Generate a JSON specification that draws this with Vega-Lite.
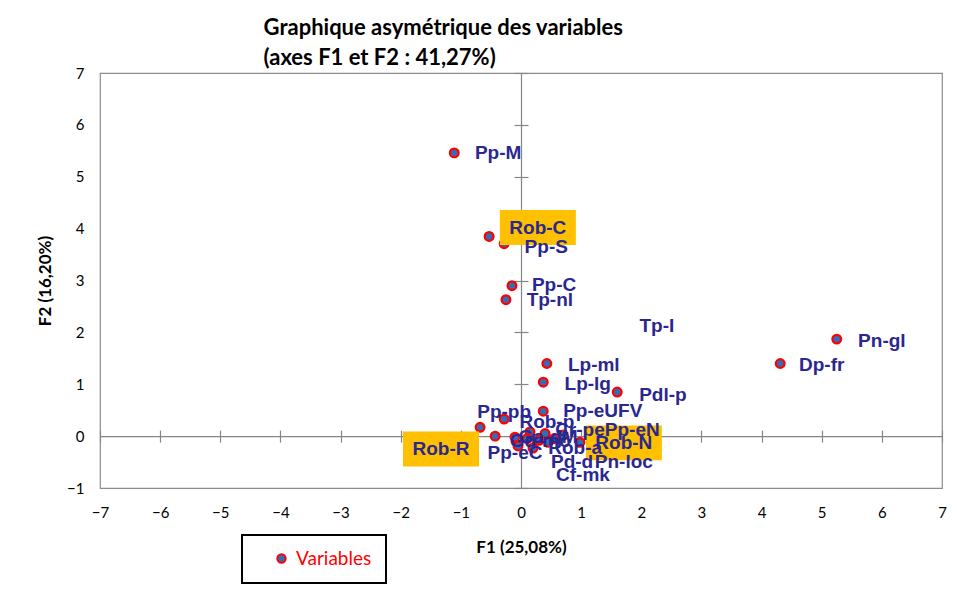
{
  "$schema": "https://vega.github.io/schema/vega-lite/v6.json",
  "width": 842,
  "height": 415,
  "autosize": {"type": "none"},
  "padding": {"left": 100, "top": 73, "right": 15, "bottom": 106},
  "background": "white",
  "title": {
    "text": ["Graphique asymétrique des variables", "(axes F1 et F2 : 41,27%)"],
    "anchor": "start",
    "dx": 227,
    "font": "Lato",
    "fontSize": 22,
    "fontWeight": "bold",
    "color": "#000000",
    "lineHeight": 30,
    "offset": -4
  },
  "datasets": {
    "points": [
      {"name": "Pp-M", "F1": -1.11, "F2": 5.46},
      {"name": "Rob-C", "F1": -0.53, "F2": 3.85},
      {"name": "Pp-S", "F1": -0.28, "F2": 3.71},
      {"name": "Pp-C", "F1": -0.15, "F2": 2.9},
      {"name": "Tp-nl", "F1": -0.25, "F2": 2.63},
      {"name": "Pn-gl", "F1": 5.25, "F2": 1.87},
      {"name": "Dp-fr", "F1": 4.31, "F2": 1.4},
      {"name": "Lp-ml", "F1": 0.43, "F2": 1.4},
      {"name": "Lp-lg", "F1": 0.37, "F2": 1.04},
      {"name": "Pdl-p", "F1": 1.6, "F2": 0.85},
      {"name": "Pp-eUFV", "F1": 0.37, "F2": 0.48},
      {"name": "Pp-pb", "F1": -0.28, "F2": 0.33},
      {"name": "Rob-R", "F1": -0.68, "F2": 0.17},
      {"name": "Pp-eC", "F1": -0.43, "F2": 0.0},
      {"name": "Rob-p", "F1": -0.1, "F2": -0.02},
      {"name": "Pd-d", "F1": -0.05, "F2": -0.19},
      {"name": "Cf-mk", "F1": 0.2, "F2": -0.23},
      {"name": "Pn-loc", "F1": 0.98, "F2": -0.12},
      {"name": "Rob-N", "F1": 0.55, "F2": -0.05},
      {"name": "Pp-eN", "F1": 0.4, "F2": 0.05},
      {"name": "Cr-pe", "F1": 0.15, "F2": 0.08},
      {"name": "Rob-a", "F1": 0.3, "F2": -0.08},
      {"name": "Tp-I", "F1": 0.7, "F2": 0.02},
      {"name": "Ga-dM", "F1": 0.1, "F2": -0.05},
      {"name": "Gd-mo", "F1": 0.45, "F2": -0.12}
    ],
    "labels": [
      {"name": "Pp-M", "F1": -0.38, "F2": 5.46, "highlight": false},
      {"name": "Rob-C", "F1": 0.28, "F2": 4.02, "highlight": true},
      {"name": "Pp-S", "F1": 0.42, "F2": 3.65, "highlight": false},
      {"name": "Pp-C", "F1": 0.55, "F2": 2.92, "highlight": false},
      {"name": "Tp-nl", "F1": 0.48, "F2": 2.62, "highlight": false},
      {"name": "Tp-I", "F1": 2.26, "F2": 2.13, "highlight": false},
      {"name": "Pn-gl", "F1": 6.0, "F2": 1.83, "highlight": false},
      {"name": "Dp-fr", "F1": 5.0, "F2": 1.37, "highlight": false},
      {"name": "Lp-ml", "F1": 1.21, "F2": 1.37, "highlight": false},
      {"name": "Lp-lg", "F1": 1.11, "F2": 1.0, "highlight": false},
      {"name": "Pdl-p", "F1": 2.36, "F2": 0.79, "highlight": false},
      {"name": "Pp-eUFV", "F1": 1.36, "F2": 0.48, "highlight": false},
      {"name": "Pp-pb", "F1": -0.28, "F2": 0.46, "highlight": false},
      {"name": "Rob-p", "F1": 0.43, "F2": 0.27, "highlight": false},
      {"name": "Cr-pe", "F1": 0.98, "F2": 0.12, "highlight": false},
      {"name": "Rob-N", "F1": 1.71, "F2": -0.13, "highlight": true},
      {"name": "Pp-eN", "F1": 1.85, "F2": 0.12, "highlight": false},
      {"name": "Rob-R", "F1": -1.33, "F2": -0.25, "highlight": true},
      {"name": "Pp-eC", "F1": -0.1, "F2": -0.33, "highlight": false},
      {"name": "Ga-dM", "F1": 0.45, "F2": -0.02, "highlight": false},
      {"name": "Gd-mo", "F1": 0.32, "F2": -0.1, "highlight": false},
      {"name": "Rob-a", "F1": 0.9, "F2": -0.23, "highlight": false},
      {"name": "Pd-d", "F1": 0.85, "F2": -0.5, "highlight": false},
      {"name": "Pn-loc", "F1": 1.71, "F2": -0.5, "highlight": false},
      {"name": "Cf-mk", "F1": 1.03, "F2": -0.75, "highlight": false}
    ]
  },
  "layer": [
    {
      "data": {"name": "points"},
      "mark": {"type": "point", "shape": "circle", "filled": true, "size": 75, "stroke": "#FF0000", "strokeWidth": 2.3, "opacity": 1},
      "encoding": {
        "x": {
          "field": "F1", "type": "quantitative",
          "scale": {"domain": [-7, 7], "nice": false, "zero": false},
          "axis": {
            "title": "F1 (25,08%)", "orient": "bottom", "offset": 0,
            "domain": false, "ticks": false, "grid": false,
            "values": [-7, -6, -5, -4, -3, -2, -1, 0, 1, 2, 3, 4, 5, 6, 7],
            "labelFlush": false, "labelPadding": 17,
            "labelFont": "Lato", "labelFontSize": 15, "labelColor": "#000000",
            "titleFont": "Lato", "titleFontSize": 17, "titleFontWeight": "bold", "titleColor": "#000000", "titlePadding": 19
          }
        },
        "y": {
          "field": "F2", "type": "quantitative",
          "scale": {"domain": [-1, 7], "nice": false, "zero": false},
          "axis": {
            "title": "F2 (16,20%)", "orient": "left", "offset": 0,
            "domain": false, "ticks": false, "grid": false,
            "values": [-1, 0, 1, 2, 3, 4, 5, 6, 7],
            "labelFlush": false, "labelPadding": 16,
            "labelFont": "Lato", "labelFontSize": 15, "labelColor": "#000000",
            "titleFont": "Lato", "titleFontSize": 17, "titleFontWeight": "bold", "titleColor": "#000000", "titlePadding": 12
          }
        },
        "fill": {
          "datum": "Variables", "type": "nominal",
          "scale": {"range": ["#2E6FB7"]},
          "legend": {
            "title": null, "orient": "none", "legendX": 142, "legendY": 462,
            "labelColor": "#FF0000", "labelFont": "Lato", "labelFontSize": 19,
            "symbolType": "circle", "symbolSize": 70, "symbolStrokeColor": "#FF0000", "symbolStrokeWidth": 2,
            "symbolOffset": 16, "labelOffset": 5
          }
        }
      }
    },
    {
      "data": {"name": "labels"},
      "transform": [{"filter": "datum.highlight"}],
      "mark": {"type": "point", "shape": "M-1,-0.46L1,-0.46L1,0.46L-1,0.46Z", "size": 5776, "filled": true, "fill": "#FFC000", "strokeWidth": 0, "opacity": 1},
      "encoding": {
        "x": {
          "field": "F1", "type": "quantitative",
          "axis": {
            "title": null, "orient": "bottom", "offset": -51.875,
            "labels": false, "domain": true, "domainColor": "#868686", "domainWidth": 1.2,
            "ticks": true, "tickSize": 6, "tickColor": "#868686", "tickWidth": 1.2, "grid": false,
            "values": [-7, -6, -5, -4, -3, -2, -1, 0, 1, 2, 3, 4, 5, 6, 7]
          }
        },
        "y": {
          "field": "F2", "type": "quantitative",
          "axis": {
            "title": null, "orient": "left", "offset": -421,
            "labels": false, "domain": true, "domainColor": "#868686", "domainWidth": 1.2,
            "ticks": true, "tickSize": 7, "tickColor": "#868686", "tickWidth": 1.2, "grid": false,
            "values": [-1, 0, 1, 2, 3, 4, 5, 6, 7]
          }
        }
      }
    },
    {
      "data": {"name": "labels"},
      "mark": {"type": "text", "align": "center", "baseline": "middle", "font": "Liberation Sans", "fontSize": 19, "fontWeight": "bold", "color": "#2A2791"},
      "encoding": {
        "x": {
          "field": "F1", "type": "quantitative",
          "axis": {
            "title": null, "orient": "bottom", "offset": -51.875,
            "labels": false, "domain": false,
            "ticks": true, "tickSize": -6, "tickColor": "#868686", "tickWidth": 1.2, "grid": false,
            "values": [-7, -6, -5, -4, -3, -2, -1, 0, 1, 2, 3, 4, 5, 6, 7]
          }
        },
        "y": {
          "field": "F2", "type": "quantitative",
          "axis": {
            "title": null, "orient": "left", "offset": -421,
            "labels": false, "domain": false,
            "ticks": true, "tickSize": -7, "tickColor": "#868686", "tickWidth": 1.2, "grid": false,
            "values": [-1, 0, 1, 2, 3, 4, 5, 6, 7]
          }
        },
        "text": {"field": "name", "type": "nominal"}
      }
    }
  ],
  "resolve": {"axis": {"x": "independent", "y": "independent"}},
  "config": {
    "view": {"stroke": "#8C8C8C", "strokeWidth": 1.2},
    "legend": {"padding": 14, "strokeColor": "#000000", "strokeWidth": 2, "fillColor": "#FFFFFF"}
  }
}
